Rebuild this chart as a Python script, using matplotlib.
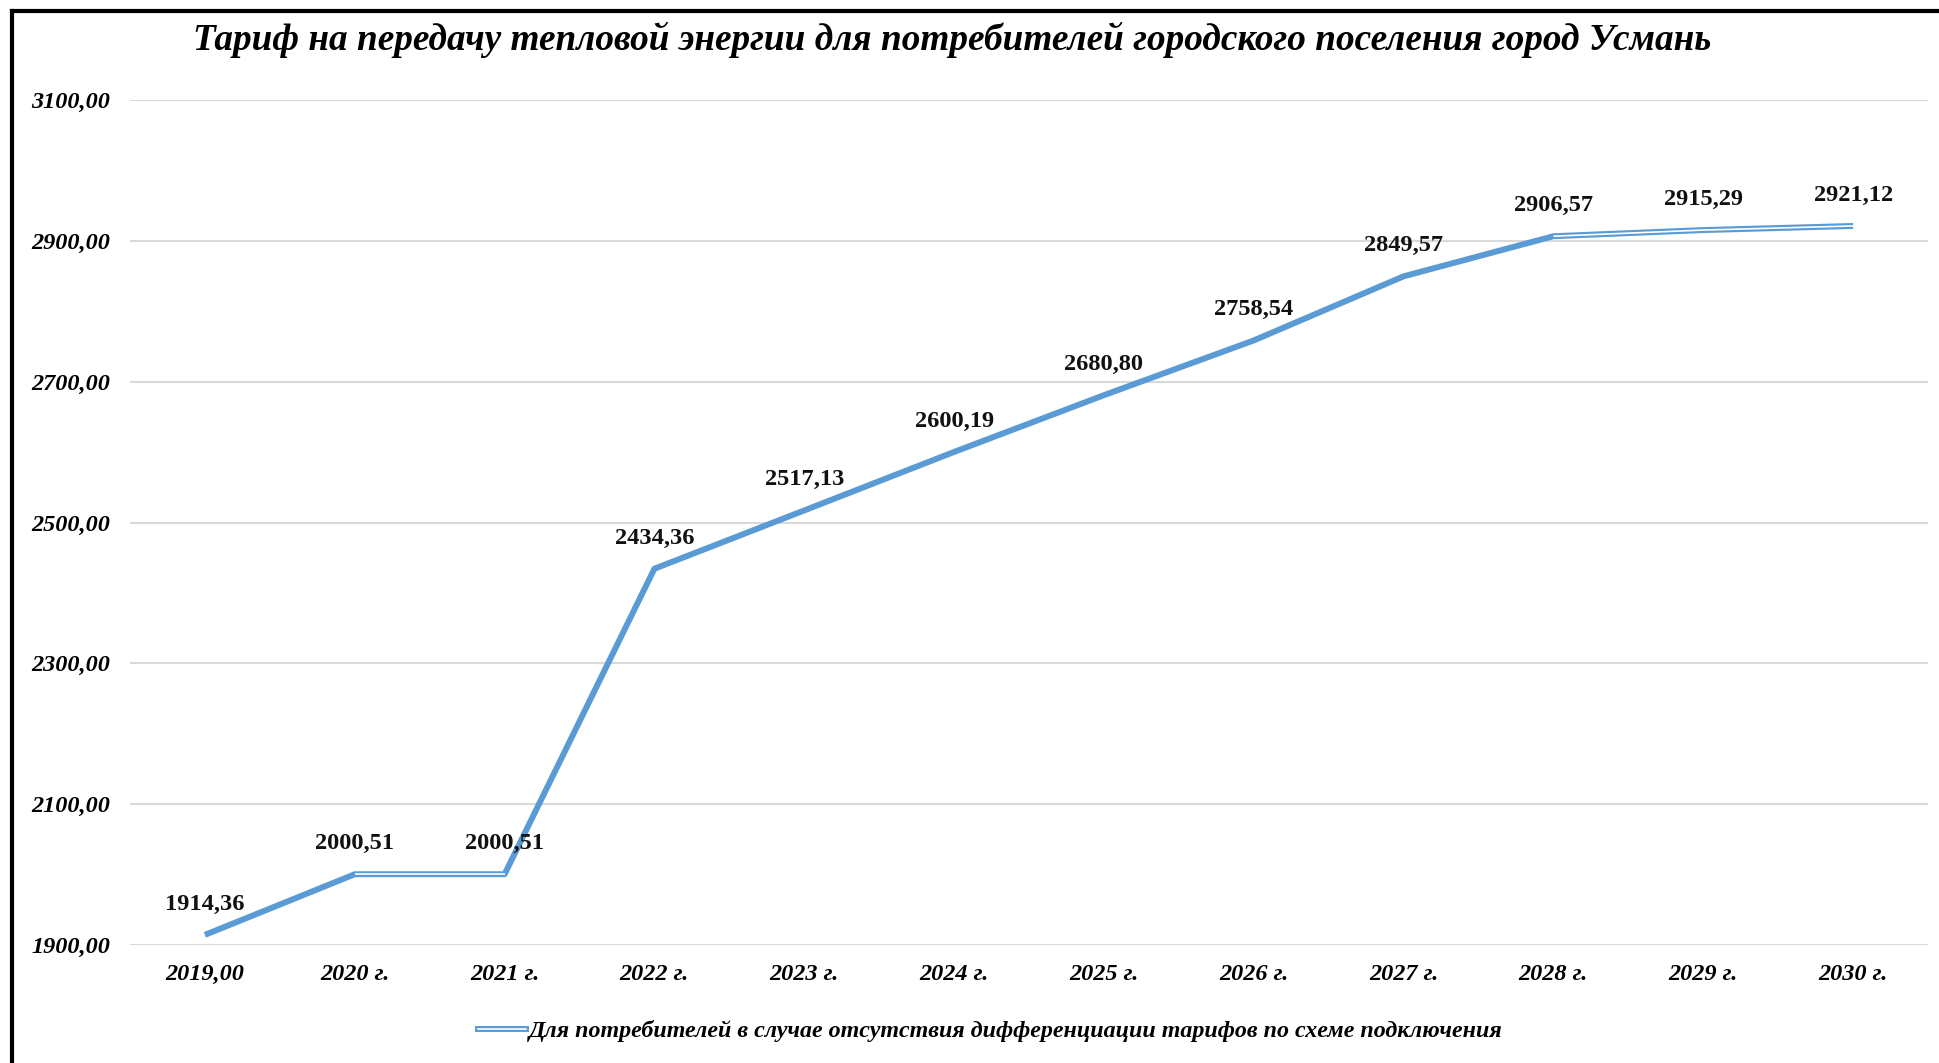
import matplotlib
matplotlib.use("Agg")
import matplotlib.pyplot as plt
from matplotlib.lines import Line2D

# Тариф по годам
YEARS = ["2019,00", "2020 г.", "2021 г.", "2022 г.", "2023 г.", "2024 г.",
         "2025 г.", "2026 г.", "2027 г.", "2028 г.", "2029 г.", "2030 г."]
TARIFF = [1914.36, 2000.51, 2000.51, 2434.36, 2517.13, 2600.19,
          2680.80, 2758.54, 2849.57, 2906.57, 2915.29, 2921.12]
Y_TICKS = [1900, 2100, 2300, 2500, 2700, 2900, 3100]

TITLE = "Тариф на передачу тепловой энергии для потребителей городского поселения город Усмань"
SERIES = "Для потребителей в случае отсутствия дифференциации тарифов по схеме подключения"

BLUE = "#5B9BD5"
plt.rcParams["font.family"] = ["Liberation Serif", "DejaVu Serif"]

fig = plt.figure(figsize=(19.4, 10.63), dpi=100)
ax = fig.add_axes([130 / 1940, 1 - 945 / 1063, 1798 / 1940, 845 / 1063])

x = list(range(len(YEARS)))
ax.plot(x, TARIFF, color=BLUE, lw=4.3, solid_joinstyle="round", solid_capstyle="butt", zorder=3)

# двойная линия на почти горизонтальных участках
for a, b in [(1, 2), (9, 11)]:
    ax.plot(x[a:b + 1], TARIFF[a:b + 1], color="white", lw=1.2,
            solid_capstyle="butt", zorder=4)

for xi, v in zip(x, TARIFF):
    ax.annotate(f"{v:.2f}".replace(".", ","), (xi, v), xytext=(0, 22),
                textcoords="offset points", ha="center", va="center",
                fontsize=17.6, fontweight="bold", color="#111111")

ax.set_xlim(-0.5, len(YEARS) - 0.5)
ax.set_ylim(1900, 3100)
ax.set_yticks(Y_TICKS)
ax.set_yticklabels([f"{t},00" for t in Y_TICKS], fontsize=17.5,
                   fontweight="bold", fontstyle="italic")
ax.set_xticks(x)
ax.set_xticklabels(YEARS, fontsize=17.5, fontweight="bold", fontstyle="italic")
ax.tick_params(axis="x", length=0, pad=14)
ax.tick_params(axis="y", length=0, pad=14)
ax.grid(axis="y", color="#D9D9D9", lw=1.5)
ax.set_axisbelow(True)
for s in ax.spines.values():
    s.set_visible(False)

fig.text(952 / 1940, 1 - 40 / 1063, TITLE, ha="center", va="center",
         fontsize=26.8, fontweight="bold", fontstyle="italic")

# легенда с двойной линией
h_outer = Line2D([], [], color=BLUE, lw=4.3)
h_inner = Line2D([], [], color="white", lw=1.2)
fig.legend([(h_outer, h_inner)], [SERIES], loc="center",
           bbox_to_anchor=(990 / 1940, 1 - 1031 / 1063), frameon=False,
           handlelength=2.0, handletextpad=0.1,
           prop={"size": 17.3, "weight": "bold", "style": "italic"})

# рамка
fig.add_artist(Line2D([12 / 1940, 12 / 1940], [0, 1 - 11 / 1063], color="black",
                      lw=3, transform=fig.transFigure))
fig.add_artist(Line2D([12 / 1940, 1], [1 - 11 / 1063, 1 - 11 / 1063], color="black",
                      lw=3, transform=fig.transFigure))

fig.savefig("out.png", dpi=100)
